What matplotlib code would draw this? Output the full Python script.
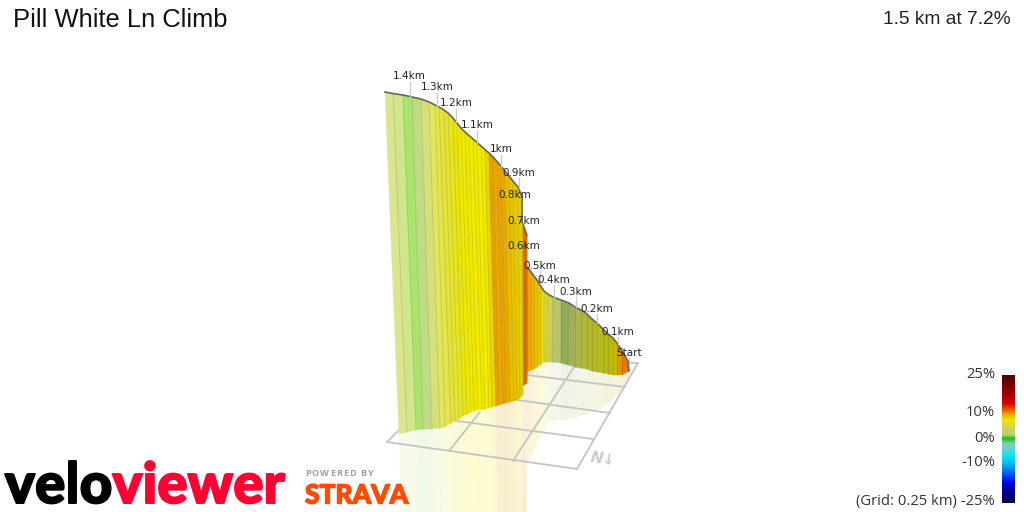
import matplotlib
matplotlib.use("Agg")
import matplotlib.pyplot as plt
import matplotlib.patheffects as pe
import numpy as np
from matplotlib.colors import LinearSegmentedColormap

title = "Pill White Ln Climb"
summary = "1.5 km at 7.2%"
legend_labels = ["25%", "10%", "0%", "-10%", "(Grid: 0.25 km) -25%"]
legend_y = [374, 412, 438, 463, 501]

# Front sheet of the projected climb profile (screen coordinates)
front_top_x = [385,393,403,412,421,429,435,439,444,448,453,457,461,465,469,473,477,481,485,489,493,497,501,505,509,513,518,522]
front_top_y = [92,93.5,95,97,99,102,105,107,110,113,118,123,128,132,135.5,139,142.5,146,149.5,153,157,161.5,166,171,176,181,187,197]
front_bot_x = [399,407,416,423,432,440,445,451,455,459,463,467,471,474,478,482,485,489,492,496,499,503,506,510,514,517,520,523]
front_bot_y = [434,432,430,429,429,428,427,423,421,419,416,414,412,411,410,409.5,409,408,407,406,405,404,403,402,401,400,398,395]
front_colors = ["#dce58e","#cfe78a","#a8e56c","#bfdc84","#d6e07a","#e2e65a","#e4e54a","#e3e338",
                "#e5e430","#e6e41c","#e8e410","#ece800","#f0ea00","#eee800","#f2ec00","#efe900",
                "#f2ed00","#eee800","#ecd400","#e8a000","#eaa800","#e8a400","#e8aa00","#e8bc00",
                "#e8c400","#e6c800","#e4d000"]

# Short fold joining the two sheets
fold_top_x = [522,523.5,527]
fold_top_y = [222,225,235]
fold_bot_x = [523,524,527]
fold_bot_y = [386,385,383]
fold_colors = ["#e69a00","#dc6800"]

# Rear sheet
rear_top_x = [527,531,534,537,540,544,547,553,561,569,575,581,587,592,597,603,608,613,617,622,628]
rear_top_y = [267,272,276,280,285,291,293.5,297,300,303,307,310,314,319,323,329,334,338,343,351,361]
rear_bot_x = [527,531,534,537,540,544,546,552,561,568,575,581,587,592,598,603,608,613,617,622,629]
rear_bot_y = [372,370,369,367,365,362,362,362,363,365,367,368,369,371,372,373,374,375,375,375,371]
rear_floor_y = [467,457,450,443,437,432,424,421,420,419,418,416,414,412,410,407,403,399,395,390,383]
rear_colors = ["#e8a800","#e8b400","#ecbc00","#ecc800","#e8d800","#e8e030","#ccd34a","#b8c36c",
               "#8fae58","#a3ad60","#aab54a","#b0b83a","#b0b830","#b4b828","#b8bc20","#b4b818",
               "#b8b810","#c8b800","#e09800","#e87800"]

# Floor grid segments
grid_x0 = [387,387,527,517,457,449,513,577]
grid_y0 = [442,442,375,400,421,451,461,469]
grid_x1 = [577,399,625,610,593,480,574,638]
grid_y1 = [469,430,387,413,439,412,367,363]
grid_top = ([615,638],[362,363])

# Distance markers
km_labels = ["1.4km","1.3km","1.2km","1.1km","1km","0.9km","0.8km","0.7km","0.6km","0.5km","0.4km","0.3km","0.2km","0.1km","Start"]
km_x = [409.5,437,456,477,501,519,515,524,524,540,554,576,597,618,629]
km_y = [76,87,103,125,149,173,195,221,246,266,280,292,309,332,353]
tick_x = [410,437,456,477,501,519,540,554,576,597,618,629]
tick_y0 = [82,93,109,131,155,178,271,285,297,314,337,358]
tick_y1 = [97,107,122,143,167,188,283,298,307,323,344,362]

# Colour scale
scale_pos = [0,0.143,0.221,0.273,0.313,0.352,0.417,0.469,0.495,0.534,0.573,0.625,0.69,0.794,0.846,0.911,1]
scale_col = ["#500000","#a00000","#d80000","#e86000","#eeb000","#eee800","#d0d060","#c0d060","#10c020",
             "#88ccaa","#70d0d0","#10e8e8","#00c0f0","#0040f0","#0000e0","#000090","#000040"]

fig = plt.figure(figsize=(10.24, 5.12), dpi=100)
ax = fig.add_axes([0, 0, 1, 1])
ax.set_xlim(0, 1024)
ax.set_ylim(512, 0)
ax.axis("off")
IMG_BOTTOM = 512
EDGE = (0.35, 0.3, 0.15, 0.2)


def sheet(tx, ty, bx, by, cols, z):
    for i, c in enumerate(cols):
        ax.fill([tx[i], tx[i+1], bx[i+1], bx[i]], [ty[i], ty[i+1], by[i+1], by[i]],
                facecolor=c, edgecolor=c, lw=0.3, zorder=z)
        ax.plot([tx[i+1], bx[i+1]], [ty[i+1], by[i+1]], color=EDGE, lw=0.6, zorder=z + 0.1)


# Floor reflection
for i, c in enumerate(front_colors):
    ax.fill([front_bot_x[i], front_bot_x[i+1], front_bot_x[i+1] + 2, front_bot_x[i] + 2],
            [front_bot_y[i], front_bot_y[i+1], IMG_BOTTOM, IMG_BOTTOM],
            facecolor=c, alpha=0.18, edgecolor="none", zorder=1)
for i, c in enumerate(fold_colors):
    ax.fill([fold_bot_x[i], fold_bot_x[i+1], fold_bot_x[i+1], fold_bot_x[i]],
            [fold_bot_y[i], fold_bot_y[i+1], IMG_BOTTOM, IMG_BOTTOM],
            facecolor=c, alpha=0.1, edgecolor="none", zorder=1)
for i, c in enumerate(rear_colors):
    ax.fill([rear_bot_x[i], rear_bot_x[i+1], rear_bot_x[i+1], rear_bot_x[i]],
            [rear_bot_y[i], rear_bot_y[i+1], rear_floor_y[i+1], rear_floor_y[i]],
            facecolor=c, alpha=0.14, edgecolor="none", zorder=1)

# Grid
for a, b, c, d in zip(grid_x0, grid_y0, grid_x1, grid_y1):
    ax.plot([a, c], [b, d], color="#c4c4c4", lw=1.3, zorder=2, solid_capstyle="round")
ax.plot(grid_top[0], grid_top[1], color="#c4c4c4", lw=1.3, zorder=2)
ax.text(603, 459, "N↓", color="#cccccc", fontsize=11, style="italic", fontweight="bold",
        ha="center", va="center", rotation=-8, zorder=2, family="DejaVu Sans")

# Sheets
sheet(rear_top_x, rear_top_y, rear_bot_x, rear_bot_y, rear_colors, 3)
ax.plot(rear_top_x + [629], rear_top_y + [371], color="#666666", lw=1.2, zorder=3.5)
sheet(fold_top_x, fold_top_y, fold_bot_x, fold_bot_y, fold_colors, 4)
ax.plot(fold_top_x, fold_top_y, color="#666666", lw=1.0, zorder=4.5)
sheet(front_top_x, front_top_y, front_bot_x, front_bot_y, front_colors, 5)
ax.plot(front_top_x + [522], front_top_y + [222], color="#666666", lw=1.2, zorder=5.5)

# Distance labels
for x, a, b in zip(tick_x, tick_y0, tick_y1):
    ax.plot([x, x], [a, b], color="#cccccc", lw=1.0, zorder=6)
for s, x, y in zip(km_labels, km_x, km_y):
    ax.text(x, y, s, fontsize=7.5, color="#222222", ha="center", va="center", zorder=7, family="DejaVu Sans")

# Titles
ax.text(13, 20, title, fontsize=18.4, family="Liberation Sans", color="#111111", ha="left", va="center")
ax.text(1011, 20, summary, fontsize=13.8, family="Liberation Sans", color="#222222", ha="right", va="center")

# Colour bar
cmap = LinearSegmentedColormap.from_list("grade", list(zip(scale_pos, scale_col)), N=256)
ax.imshow(np.linspace(0, 1, 256)[:, None], cmap=cmap, extent=(1002, 1015, 503, 375), aspect="auto", zorder=2)
ax.set_xlim(0, 1024)
ax.set_ylim(512, 0)
for s, y in zip(legend_labels, legend_y):
    ax.text(995, y, s, fontsize=10.6, family="Open Sans", color="#333333", ha="right", va="center")

# Logos: letters abut, the word spans x = 5 to 285
logo_letters = list("veloviewer")
logo_col = ["#000000"] * 4 + ["#ff0033"] * 6
renderer = fig.canvas.get_renderer()
widths = []
for s in logo_letters:
    probe = ax.text(0, 0, s, fontsize=47, family="Lato", fontweight=900)
    widths.append(probe.get_window_extent(renderer).width)
    probe.remove()
logo_scale = 278 / sum(widths)
cursor = 5.0
for s, w, c in zip(logo_letters, widths, logo_col):
    ax.text(cursor, 503, s, fontsize=47 * logo_scale, family="Lato", fontweight=900, color=c,
            ha="left", va="baseline", zorder=9,
            path_effects=[pe.withStroke(linewidth=1.4, foreground=c)])
    cursor += w * logo_scale + 0.2

cursor = 305.0
for s in "POWERED BY":
    t = ax.text(cursor, 474, s, fontsize=6.6, family="Open Sans", fontweight="bold", color="#a0a0a0",
                ha="left", va="center", zorder=9)
    cursor += (t.get_window_extent(renderer).width if s != " " else 2.5) + 1.0
ax.text(305, 503.5, "STRAVA", fontsize=19, family="Lato", fontweight=900, color="#fc4c02",
        ha="left", va="baseline", zorder=9,
        path_effects=[pe.withStroke(linewidth=1.0, foreground="#fc4c02")])

fig.savefig("out.png", dpi=100)
